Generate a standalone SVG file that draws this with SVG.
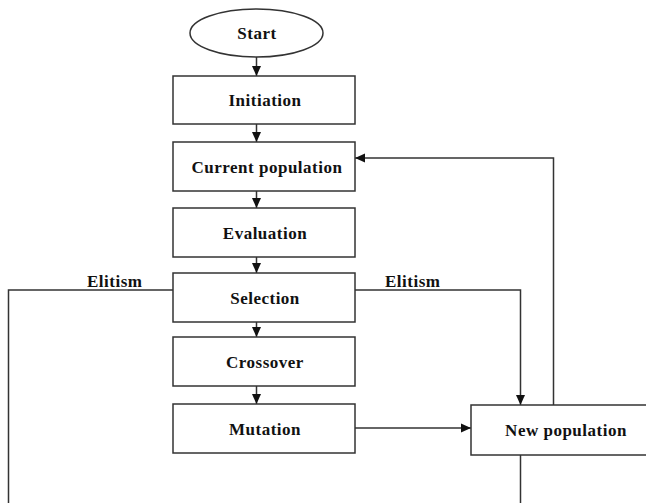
<svg xmlns="http://www.w3.org/2000/svg" width="646" height="503" viewBox="0 0 646 503">
<style>
.box{fill:#fff;stroke:#333;stroke-width:1.5}
.ln{fill:none;stroke:#333;stroke-width:1.5}
text{font-family:"Liberation Serif","Times New Roman",serif;font-weight:bold;font-size:17px;letter-spacing:0.5px;fill:#111;text-anchor:middle}
.lbl{text-anchor:start}
</style>
<defs>
<marker id="ah" viewBox="0 0 10 10" refX="10" refY="5" markerWidth="10" markerHeight="10" markerUnits="userSpaceOnUse" orient="auto">
<path d="M0,0.5 L10,5 L0,9.5 Z" fill="#111"/>
</marker>
</defs>
<rect width="646" height="503" fill="#fff"/>
<g id="connectors">
<line class="ln" x1="256.5" y1="57" x2="256.5" y2="76" marker-end="url(#ah)"/>
<line class="ln" x1="256.5" y1="124" x2="256.5" y2="142" marker-end="url(#ah)"/>
<line class="ln" x1="256.5" y1="191" x2="256.5" y2="208" marker-end="url(#ah)"/>
<line class="ln" x1="256.5" y1="257" x2="256.5" y2="273" marker-end="url(#ah)"/>
<line class="ln" x1="256.5" y1="322" x2="256.5" y2="337" marker-end="url(#ah)"/>
<line class="ln" x1="256.5" y1="386" x2="256.5" y2="404" marker-end="url(#ah)"/>
<line class="ln" x1="355" y1="428" x2="471" y2="428" marker-end="url(#ah)"/>
<polyline class="ln" points="355,290 520.5,290 520.5,405" marker-end="url(#ah)"/>
<polyline class="ln" points="553.5,405 553.5,158 355,158" marker-end="url(#ah)"/>
<polyline class="ln" points="173,290 8.5,290 8.5,503"/>
<line class="ln" x1="520.5" y1="455" x2="520.5" y2="503"/>
<text class="lbl" x="87" y="287">Elitism</text>
<text class="lbl" x="385" y="287">Elitism</text>
</g>
<g id="start"><ellipse class="box" cx="256.5" cy="33" rx="66.5" ry="24"/><text x="257" y="39">Start</text></g>
<g id="initiation"><rect class="box" x="173" y="76" width="182" height="48"/><text x="265" y="106">Initiation</text></g>
<g id="current"><rect class="box" x="173" y="142" width="182" height="49"/><text x="267" y="172.5">Current population</text></g>
<g id="evaluation"><rect class="box" x="173" y="208" width="182" height="49"/><text x="265" y="238.5">Evaluation</text></g>
<g id="selection"><rect class="box" x="173" y="273" width="182" height="49"/><text x="265" y="303.5">Selection</text></g>
<g id="crossover"><rect class="box" x="173" y="337" width="182" height="49"/><text x="265" y="367.5">Crossover</text></g>
<g id="mutation"><rect class="box" x="173" y="404" width="182" height="49"/><text x="265" y="434.5">Mutation</text></g>
<g id="newpop"><rect class="box" x="471" y="405" width="190" height="50"/><text x="566" y="435.5">New population</text></g>
</svg>
